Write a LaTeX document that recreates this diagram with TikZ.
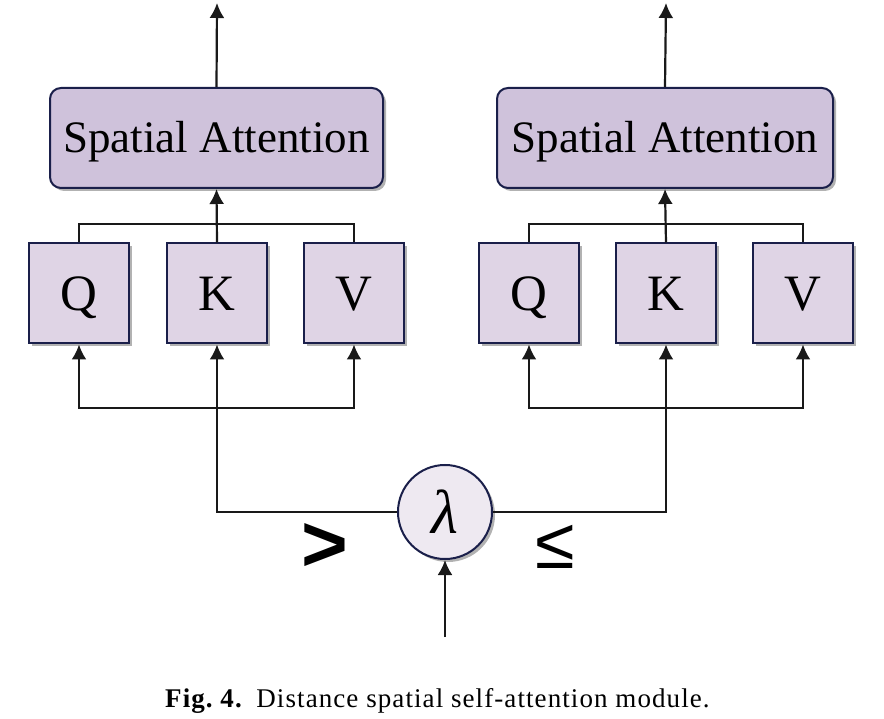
\documentclass[tikz,border=0pt]{standalone}
\usepackage{fontspec}
\setmainfont{Liberation Serif}
\newfontfamily\symfont{Liberation Sans}
\newfontfamily\capfont[LetterSpace=4]{Liberation Serif}
\usetikzlibrary{arrows.meta, shadows}

\definecolor{attfill}{RGB}{207,194,219}
\definecolor{qkvfill}{RGB}{223,212,229}
\definecolor{lamfill}{RGB}{238,233,241}
\definecolor{edge}{RGB}{26,31,74}

\tikzset{
    boxshadow/.style={drop shadow={shadow xshift=3pt, shadow yshift=-3pt, fill=black!30, opacity=1}},
    attbox/.style={draw=edge, line width=2pt, fill=attfill, rounded corners=11pt,
        minimum height=100pt, inner sep=0pt, text height=30pt, text depth=0pt,
        font=\fontsize{45}{50}\selectfont, boxshadow},
    qkvbox/.style={draw=edge, line width=2pt, fill=qkvfill, minimum size=100pt,
        inner sep=0pt, text height=34pt, text depth=0pt,
        font=\fontsize{51}{55}\selectfont, boxshadow},
    lamnode/.style={draw=edge, line width=2pt, fill=lamfill, circle, minimum size=94pt,
        inner sep=0pt, font=\fontsize{62}{66}\selectfont\itshape, boxshadow},
    wire/.style={line width=2.2pt, black!90},
    arrow/.style={wire, -{Latex[length=15pt, width=15pt]}}
}

\begin{document}
\begin{tikzpicture}[x=1pt, y=-1pt]
    \useasboundingbox (0,0) rectangle (884,719);

    % left branch
    \node[attbox, minimum width=333pt] (attL) at (216.5,138) {Spatial Attention};
    \node[qkvbox] (qL) at (79,293.5) {Q};
    \node[qkvbox] (kL) at (217,293.5) {K};
    \node[qkvbox] (vL) at (354,293.5) {V};

    % right branch
    \node[attbox, minimum width=336pt] (attR) at (665,138) {Spatial Attention};
    \node[qkvbox] (qR) at (529,293.5) {Q};
    \node[qkvbox] (kR) at (666,293.5) {K};
    \node[qkvbox] (vR) at (803,293.5) {V};

    % threshold
    \node[lamnode] (lam) at (445,512) {λ};
    \node[font=\symfont\bfseries\fontsize{80}{80}\selectfont] (gt) at (325,547) {>};
    \node[font=\symfont\fontsize{72}{72}\selectfont] (le) at (555,547) {≤};

    \coordinate (outL) at (217,3);
    \coordinate (outR) at (666,3);
    \coordinate (busL) at (217,224);
    \coordinate (busR) at (666,224);
    \coordinate (splitL) at (217,408);
    \coordinate (splitR) at (666,408);
    \coordinate (inp) at (445,637);

    \draw[arrow] (attL.north) -- (outL);
    \draw[arrow] (attR.north) -- (outR);

    \draw[wire] (qL.north) |- (busL) -| (vL.north);
    \draw[wire] (qR.north) |- (busR) -| (vR.north);
    \draw[arrow] (kL.north) -- (attL.south);
    \draw[arrow] (kR.north) -- (attR.south);

    \draw[arrow] (lam.west) -| (kL.south);
    \draw[arrow] (lam.east) -| (kR.south);
    \draw[arrow] (splitL) -| (qL.south);
    \draw[arrow] (splitL) -| (vL.south);
    \draw[arrow] (splitR) -| (qR.south);
    \draw[arrow] (splitR) -| (vR.south);
    \draw[arrow] (inp) -- (lam.south);

    \node[anchor=base west, inner sep=0pt, font=\capfont\fontsize{27}{30}\selectfont] (caption) at (165,707)
        {\textbf{Fig.~4.}\enspace Distance spatial self-attention module.};
\end{tikzpicture}
\end{document}
